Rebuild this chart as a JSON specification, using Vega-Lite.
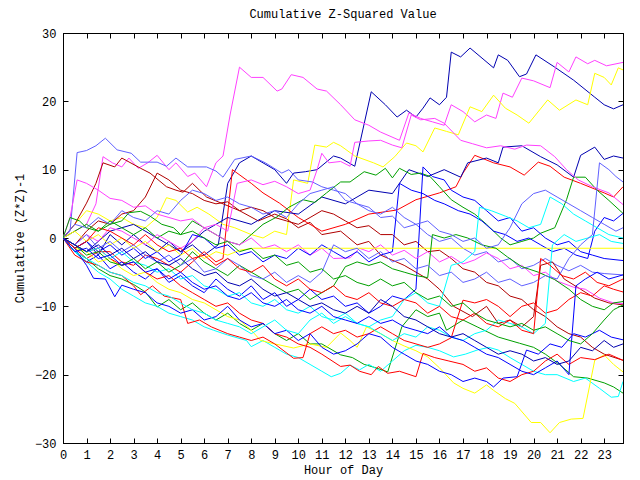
{
"$schema": "https://vega.github.io/schema/vega-lite/v6.json",
"width": 560, "height": 410,
"autosize": {"type": "none"},
"padding": {"left": 63, "top": 33, "right": 17, "bottom": 37},
"background": "white",
"title": {"text": "Cumulative Z-Squared Value", "font": "Liberation Mono", "fontSize": 12, "fontWeight": "normal", "offset": 6, "color": "black"},
"config": {"view": {"stroke": "black", "strokeWidth": 1},
 "axis": {"labelFont": "Liberation Mono", "titleFont": "Liberation Mono", "labelFontSize": 12, "titleFontSize": 12, "titleFontWeight": "normal", "labelColor": "black", "titleColor": "black", "domainColor": "black", "tickColor": "black", "grid": false}},
"datasets": {"d": [
{"s":"a","h":0,"v":0},{"s":"a","h":0.5,"v":-1.5},{"s":"a","h":1,"v":-0.5},{"s":"a","h":1.5,"v":-2.5},{"s":"a","h":2,"v":0.5},{"s":"a","h":2.5,"v":-1},{"s":"a","h":3,"v":0.5},{"s":"a","h":3.5,"v":-1},{"s":"a","h":4,"v":-2},{"s":"a","h":4.5,"v":-0.5},{"s":"a","h":5,"v":-2},{"s":"a","h":5.5,"v":-1},{"s":"a","h":6,"v":-2.5},{"s":"a","h":6.6,"v":-1},{"s":"a","h":7,"v":8},{"s":"a","h":7.5,"v":11},{"s":"a","h":8,"v":12},{"s":"a","h":8.5,"v":11},{"s":"a","h":9,"v":10},{"s":"a","h":9.5,"v":8},{"s":"a","h":9.8,"v":9.5},{"s":"a","h":10.3,"v":9.7},{"s":"a","h":10.8,"v":10},{"s":"a","h":11.5,"v":12},{"s":"a","h":11.8,"v":11.7},{"s":"a","h":12.4,"v":10.5},{"s":"a","h":13.1,"v":21.4},{"s":"a","h":13.7,"v":19.5},{"s":"a","h":14.2,"v":17.7},{"s":"a","h":14.6,"v":18.7},{"s":"a","h":15,"v":17.7},{"s":"a","h":15.3,"v":19},{"s":"a","h":15.6,"v":20.5},{"s":"a","h":16,"v":19.5},{"s":"a","h":16.3,"v":20.6},{"s":"a","h":16.5,"v":27.2},{"s":"a","h":16.9,"v":26.5},{"s":"a","h":17.3,"v":27.8},{"s":"a","h":18.3,"v":24.9},{"s":"a","h":18.5,"v":26.8},{"s":"a","h":18.9,"v":26},{"s":"a","h":19.4,"v":23.6},{"s":"a","h":19.7,"v":24},{"s":"a","h":20.1,"v":26.8},{"s":"a","h":20.9,"v":25},{"s":"a","h":21.7,"v":23.1},{"s":"a","h":22.6,"v":20.6},{"s":"a","h":23,"v":19.5},{"s":"a","h":23.4,"v":18.9},{"s":"a","h":23.8,"v":19.5},
{"s":"b","h":0,"v":0},{"s":"b","h":0.5,"v":1},{"s":"b","h":1,"v":2},{"s":"b","h":1.4,"v":5},{"s":"b","h":1.7,"v":11.9},{"s":"b","h":2.1,"v":11},{"s":"b","h":2.5,"v":10.4},{"s":"b","h":2.8,"v":11.7},{"s":"b","h":3.2,"v":10.2},{"s":"b","h":3.6,"v":11},{"s":"b","h":4,"v":12.1},{"s":"b","h":4.5,"v":10},{"s":"b","h":4.8,"v":11},{"s":"b","h":5.3,"v":9},{"s":"b","h":5.6,"v":9.5},{"s":"b","h":6.1,"v":7.5},{"s":"b","h":6.5,"v":11},{"s":"b","h":6.8,"v":12},{"s":"b","h":7.1,"v":18},{"s":"b","h":7.5,"v":25},{"s":"b","h":8,"v":23.5},{"s":"b","h":8.5,"v":23.5},{"s":"b","h":9.1,"v":21.5},{"s":"b","h":9.3,"v":21.8},{"s":"b","h":9.7,"v":23.9},{"s":"b","h":10.2,"v":23.5},{"s":"b","h":10.8,"v":21.8},{"s":"b","h":11.2,"v":21.5},{"s":"b","h":11.8,"v":19.5},{"s":"b","h":12.4,"v":17.3},{"s":"b","h":13,"v":16.5},{"s":"b","h":13.5,"v":15.5},{"s":"b","h":14.3,"v":14.3},{"s":"b","h":14.7,"v":18.3},{"s":"b","h":15.2,"v":17.5},{"s":"b","h":15.7,"v":17},{"s":"b","h":16.2,"v":16.5},{"s":"b","h":16.5,"v":19.5},{"s":"b","h":17,"v":18.5},{"s":"b","h":17.5,"v":17},{"s":"b","h":18,"v":18},{"s":"b","h":18.4,"v":17.5},{"s":"b","h":18.7,"v":21.2},{"s":"b","h":19.1,"v":20.6},{"s":"b","h":19.5,"v":23.4},{"s":"b","h":20,"v":23},{"s":"b","h":20.7,"v":22},{"s":"b","h":21,"v":25.7},{"s":"b","h":21.5,"v":24.3},{"s":"b","h":21.8,"v":26.5},{"s":"b","h":22.3,"v":25.5},{"s":"b","h":22.6,"v":26},{"s":"b","h":23.1,"v":25.2},{"s":"b","h":23.8,"v":25.7},
{"s":"c","h":0,"v":0},{"s":"c","h":0.5,"v":2},{"s":"c","h":1,"v":4},{"s":"c","h":1.5,"v":3.5},{"s":"c","h":2,"v":2.5},{"s":"c","h":2.5,"v":3},{"s":"c","h":3,"v":2},{"s":"c","h":3.5,"v":1.5},{"s":"c","h":4,"v":3},{"s":"c","h":4.4,"v":5.9},{"s":"c","h":4.8,"v":5.5},{"s":"c","h":5.3,"v":3.8},{"s":"c","h":5.7,"v":4.5},{"s":"c","h":6.2,"v":3.5},{"s":"c","h":6.8,"v":2},{"s":"c","h":7.3,"v":1.5},{"s":"c","h":8,"v":0.5},{"s":"c","h":8.5,"v":0},{"s":"c","h":9,"v":1},{"s":"c","h":9.5,"v":0.5},{"s":"c","h":9.8,"v":8.5},{"s":"c","h":10.4,"v":8},{"s":"c","h":10.7,"v":13.6},{"s":"c","h":11.2,"v":13.3},{"s":"c","h":11.5,"v":14},{"s":"c","h":11.8,"v":13.5},{"s":"c","h":12.4,"v":12},{"s":"c","h":13.2,"v":11},{"s":"c","h":13.6,"v":10.4},{"s":"c","h":14.1,"v":11.9},{"s":"c","h":14.6,"v":13.9},{"s":"c","h":15,"v":13.5},{"s":"c","h":15.3,"v":12.6},{"s":"c","h":15.8,"v":16.1},{"s":"c","h":16.3,"v":15.6},{"s":"c","h":16.8,"v":15.1},{"s":"c","h":17.3,"v":19.2},{"s":"c","h":17.8,"v":18.5},{"s":"c","h":18.3,"v":20.9},{"s":"c","h":18.8,"v":19},{"s":"c","h":19.3,"v":18},{"s":"c","h":19.8,"v":16.8},{"s":"c","h":20.6,"v":20.2},{"s":"c","h":21.1,"v":18.7},{"s":"c","h":21.8,"v":20.2},{"s":"c","h":22.3,"v":19.5},{"s":"c","h":22.6,"v":24.1},{"s":"c","h":23,"v":23.5},{"s":"c","h":23.3,"v":22.4},{"s":"c","h":23.6,"v":24.9},{"s":"c","h":23.8,"v":24.6},
{"s":"d","h":0,"v":0},{"s":"d","h":0.3,"v":1},{"s":"d","h":0.6,"v":12.5},{"s":"d","h":1,"v":12.8},{"s":"d","h":1.4,"v":13.5},{"s":"d","h":1.8,"v":14.6},{"s":"d","h":2.3,"v":12.9},{"s":"d","h":2.9,"v":12.4},{"s":"d","h":3.3,"v":11.1},{"s":"d","h":4,"v":11.1},{"s":"d","h":4.4,"v":10.5},{"s":"d","h":4.8,"v":11.7},{"s":"d","h":5.3,"v":10.4},{"s":"d","h":6.1,"v":10.4},{"s":"d","h":6.5,"v":9.8},{"s":"d","h":6.8,"v":8.9},{"s":"d","h":7.3,"v":11.5},{"s":"d","h":8,"v":12},{"s":"d","h":8.6,"v":11},{"s":"d","h":9.3,"v":9.5},{"s":"d","h":9.6,"v":10},{"s":"d","h":10,"v":8.5},{"s":"d","h":10.6,"v":8.2},{"s":"d","h":11,"v":7.5},{"s":"d","h":11.5,"v":7},{"s":"d","h":12,"v":6.5},{"s":"d","h":12.5,"v":5},{"s":"d","h":13,"v":4.5},{"s":"d","h":13.5,"v":3},{"s":"d","h":14,"v":3.2},{"s":"d","h":14.5,"v":1.5},{"s":"d","h":15,"v":2},{"s":"d","h":15.5,"v":0.5},{"s":"d","h":16,"v":-0.5},{"s":"d","h":16.5,"v":0},{"s":"d","h":17,"v":-1.5},{"s":"d","h":17.5,"v":-2.5},{"s":"d","h":18,"v":-2},{"s":"d","h":18.5,"v":-3.5},{"s":"d","h":19,"v":-3},{"s":"d","h":19.5,"v":-4.5},{"s":"d","h":20,"v":-4},{"s":"d","h":20.5,"v":-3},{"s":"d","h":21,"v":-4},{"s":"d","h":21.5,"v":-4.8},{"s":"d","h":22,"v":-4},{"s":"d","h":22.5,"v":-5},{"s":"d","h":23,"v":-5.2},{"s":"d","h":23.8,"v":-5.4},
{"s":"e","h":0,"v":0},{"s":"e","h":0.5,"v":2},{"s":"e","h":1,"v":5.1},{"s":"e","h":1.4,"v":8},{"s":"e","h":1.7,"v":11},{"s":"e","h":2.2,"v":10.4},{"s":"e","h":2.5,"v":11.7},{"s":"e","h":3.3,"v":10.2},{"s":"e","h":3.7,"v":9.5},{"s":"e","h":4.4,"v":7.5},{"s":"e","h":4.8,"v":7},{"s":"e","h":5.1,"v":6.7},{"s":"e","h":5.5,"v":8},{"s":"e","h":6.1,"v":6},{"s":"e","h":6.8,"v":5},{"s":"e","h":7.5,"v":4},{"s":"e","h":8.3,"v":2.5},{"s":"e","h":9,"v":3.5},{"s":"e","h":9.5,"v":2.8},{"s":"e","h":10,"v":1.5},{"s":"e","h":10.5,"v":2.3},{"s":"e","h":11,"v":0.5},{"s":"e","h":11.8,"v":1},{"s":"e","h":12.5,"v":-1},{"s":"e","h":13,"v":-0.5},{"s":"e","h":13.5,"v":-2.5},{"s":"e","h":14.5,"v":-4},{"s":"e","h":15.5,"v":-6},{"s":"e","h":16,"v":-7.5},{"s":"e","h":16.6,"v":-10},{"s":"e","h":17.4,"v":-11.5},{"s":"e","h":18,"v":-10},{"s":"e","h":18.5,"v":-12.5},{"s":"e","h":19,"v":-12},{"s":"e","h":19.5,"v":-13},{"s":"e","h":20,"v":-11.5},{"s":"e","h":20.3,"v":-4},{"s":"e","h":20.8,"v":-3.5},{"s":"e","h":21.3,"v":-6},{"s":"e","h":22,"v":-7.5},{"s":"e","h":22.6,"v":-8.8},{"s":"e","h":23.2,"v":-9.5},{"s":"e","h":23.8,"v":-9.8},
{"s":"e2","h":0,"v":0},{"s":"e2","h":0.5,"v":-1},{"s":"e2","h":1,"v":1},{"s":"e2","h":1.5,"v":2.5},{"s":"e2","h":2,"v":2},{"s":"e2","h":2.5,"v":3.5},{"s":"e2","h":3,"v":4},{"s":"e2","h":3.5,"v":6},{"s":"e2","h":4,"v":9.5},{"s":"e2","h":4.5,"v":8.5},{"s":"e2","h":5,"v":7},{"s":"e2","h":5.5,"v":6.5},{"s":"e2","h":6,"v":5.5},{"s":"e2","h":6.5,"v":5},{"s":"e2","h":7,"v":5.3},{"s":"e2","h":7.5,"v":4},{"s":"e2","h":8,"v":4.5},{"s":"e2","h":8.5,"v":4},{"s":"e2","h":9,"v":3},{"s":"e2","h":9.5,"v":2.5},{"s":"e2","h":10,"v":2},{"s":"e2","h":10.5,"v":3},{"s":"e2","h":11,"v":4},{"s":"e2","h":11.5,"v":3.5},{"s":"e2","h":12,"v":2.5},{"s":"e2","h":12.5,"v":1.5},{"s":"e2","h":13,"v":1.8},{"s":"e2","h":13.5,"v":0.5},{"s":"e2","h":14,"v":0.5},{"s":"e2","h":14.5,"v":-1},{"s":"e2","h":15,"v":-0.5},{"s":"e2","h":15.5,"v":-2},{"s":"e2","h":16,"v":-1.8},{"s":"e2","h":16.5,"v":-3},{"s":"e2","h":17,"v":-4.5},{"s":"e2","h":17.5,"v":-5},{"s":"e2","h":18,"v":-6.5},{"s":"e2","h":18.5,"v":-7},{"s":"e2","h":19,"v":-8.5},{"s":"e2","h":19.5,"v":-9},{"s":"e2","h":20,"v":-10.5},{"s":"e2","h":20.5,"v":-11.5},{"s":"e2","h":21,"v":-13},{"s":"e2","h":21.5,"v":-14},{"s":"e2","h":22,"v":-14.5},{"s":"e2","h":22.5,"v":-16},{"s":"e2","h":23,"v":-17},{"s":"e2","h":23.8,"v":-17.9},
{"s":"f","h":0,"v":0},{"s":"f","h":0.5,"v":-1.5},{"s":"f","h":1,"v":-3},{"s":"f","h":1.5,"v":-2},{"s":"f","h":2,"v":-2},{"s":"f","h":2.5,"v":-3.5},{"s":"f","h":3,"v":-4},{"s":"f","h":3.5,"v":-2.5},{"s":"f","h":4,"v":-3},{"s":"f","h":4.5,"v":-4},{"s":"f","h":5,"v":-5},{"s":"f","h":5.5,"v":-3.5},{"s":"f","h":6,"v":-2},{"s":"f","h":6.5,"v":-3.5},{"s":"f","h":6.8,"v":-3},{"s":"f","h":7.2,"v":10},{"s":"f","h":8,"v":8},{"s":"f","h":8.5,"v":6.6},{"s":"f","h":9.2,"v":5.1},{"s":"f","h":10,"v":3},{"s":"f","h":11,"v":1},{"s":"f","h":12,"v":2},{"s":"f","h":13,"v":3.5},{"s":"f","h":14.2,"v":4.1},{"s":"f","h":15,"v":5.6},{"s":"f","h":16,"v":6.6},{"s":"f","h":16.7,"v":7.5},{"s":"f","h":17,"v":9.5},{"s":"f","h":17.5,"v":12.1},{"s":"f","h":18.3,"v":11},{"s":"f","h":19,"v":10.4},{"s":"f","h":19.6,"v":9.2},{"s":"f","h":20.2,"v":11.1},{"s":"f","h":20.7,"v":10.5},{"s":"f","h":21.3,"v":8.9},{"s":"f","h":22,"v":8},{"s":"f","h":23,"v":6.6},{"s":"f","h":23.4,"v":6},{"s":"f","h":23.8,"v":7.5},
{"s":"g","h":0,"v":0},{"s":"g","h":1,"v":-2},{"s":"g","h":2,"v":1},{"s":"g","h":3,"v":2},{"s":"g","h":4,"v":0},{"s":"g","h":5,"v":-2},{"s":"g","h":6,"v":1},{"s":"g","h":7,"v":3},{"s":"g","h":8,"v":2},{"s":"g","h":9,"v":4},{"s":"g","h":10,"v":3.5},{"s":"g","h":11,"v":6},{"s":"g","h":12,"v":5},{"s":"g","h":13,"v":7},{"s":"g","h":14,"v":6.5},{"s":"g","h":14.7,"v":10},{"s":"g","h":15.5,"v":9},{"s":"g","h":16.2,"v":10},{"s":"g","h":16.9,"v":8.9},{"s":"g","h":17.2,"v":11},{"s":"g","h":18,"v":11.7},{"s":"g","h":18.5,"v":11},{"s":"g","h":18.7,"v":13.3},{"s":"g","h":19.5,"v":13.5},{"s":"g","h":20.3,"v":11.9},{"s":"g","h":21,"v":10.7},{"s":"g","h":21.7,"v":8.9},{"s":"g","h":22,"v":12.1},{"s":"g","h":22.6,"v":13.3},{"s":"g","h":23,"v":11.5},{"s":"g","h":23.4,"v":12},{"s":"g","h":23.8,"v":11.7},
{"s":"i","h":0,"v":0},{"s":"i","h":0.5,"v":1},{"s":"i","h":1,"v":2},{"s":"i","h":1.5,"v":1},{"s":"i","h":2,"v":2.5},{"s":"i","h":2.5,"v":1.5},{"s":"i","h":3,"v":0.5},{"s":"i","h":3.5,"v":1.5},{"s":"i","h":4,"v":0},{"s":"i","h":4.5,"v":1},{"s":"i","h":5,"v":0.5},{"s":"i","h":5.5,"v":2.5},{"s":"i","h":6,"v":1.5},{"s":"i","h":6.5,"v":0.5},{"s":"i","h":7,"v":-0.5},{"s":"i","h":7.5,"v":-1},{"s":"i","h":8,"v":0.5},{"s":"i","h":8.5,"v":2},{"s":"i","h":9.1,"v":3.1},{"s":"i","h":9.6,"v":4.5},{"s":"i","h":10.2,"v":5.6},{"s":"i","h":10.7,"v":5.2},{"s":"i","h":11.2,"v":6.6},{"s":"i","h":11.8,"v":8.2},{"s":"i","h":12.2,"v":8.2},{"s":"i","h":12.8,"v":9.7},{"s":"i","h":13.3,"v":9.2},{"s":"i","h":13.7,"v":10.2},{"s":"i","h":14,"v":8.8},{"s":"i","h":14.3,"v":10.2},{"s":"i","h":14.8,"v":9.3},{"s":"i","h":15.2,"v":9.5},{"s":"i","h":15.6,"v":9},{"s":"i","h":16,"v":7.5},{"s":"i","h":16.5,"v":5.6},{"s":"i","h":17,"v":4.5},{"s":"i","h":17.5,"v":3.5},{"s":"i","h":18,"v":2},{"s":"i","h":18.6,"v":0},{"s":"i","h":19,"v":-1},{"s":"i","h":19.5,"v":-0.5},{"s":"i","h":20,"v":0},{"s":"i","h":20.3,"v":0.7},{"s":"i","h":20.9,"v":1.5},{"s":"i","h":21.4,"v":5.6},{"s":"i","h":21.7,"v":8.9},{"s":"i","h":22.2,"v":8.9},{"s":"i","h":22.7,"v":7},{"s":"i","h":23.2,"v":5.5},{"s":"i","h":23.8,"v":3.6},
{"s":"k","h":0,"v":0},{"s":"k","h":0.3,"v":3},{"s":"k","h":0.6,"v":8.5},{"s":"k","h":1,"v":8},{"s":"k","h":1.5,"v":7},{"s":"k","h":2,"v":5.8},{"s":"k","h":2.5,"v":5.5},{"s":"k","h":3,"v":4.5},{"s":"k","h":3.5,"v":4.7},{"s":"k","h":4,"v":3.5},{"s":"k","h":4.5,"v":3},{"s":"k","h":5,"v":2.5},{"s":"k","h":5.5,"v":2.8},{"s":"k","h":6,"v":1.5},{"s":"k","h":6.5,"v":2},{"s":"k","h":7,"v":1},{"s":"k","h":7.4,"v":8},{"s":"k","h":8,"v":8.5},{"s":"k","h":8.5,"v":7.8},{"s":"k","h":9,"v":8.3},{"s":"k","h":9.5,"v":7.5},{"s":"k","h":10,"v":6.5},{"s":"k","h":10.5,"v":7},{"s":"k","h":10.8,"v":10},{"s":"k","h":11,"v":12.4},{"s":"k","h":11.3,"v":11},{"s":"k","h":11.8,"v":11.2},{"s":"k","h":12.2,"v":10.5},{"s":"k","h":12.4,"v":14},{"s":"k","h":13,"v":14.2},{"s":"k","h":13.5,"v":14.3},{"s":"k","h":14,"v":13.6},{"s":"k","h":14.4,"v":13.2},{"s":"k","h":14.8,"v":18},{"s":"k","h":15.2,"v":17.3},{"s":"k","h":15.8,"v":17.5},{"s":"k","h":16.2,"v":16.8},{"s":"k","h":16.9,"v":14.3},{"s":"k","h":17.4,"v":13.8},{"s":"k","h":18,"v":13.2},{"s":"k","h":18.6,"v":13.5},{"s":"k","h":19.2,"v":13},{"s":"k","h":19.7,"v":13.6},{"s":"k","h":20.3,"v":13.5},{"s":"k","h":20.9,"v":11.9},{"s":"k","h":21.4,"v":10},{"s":"k","h":21.9,"v":8.5},{"s":"k","h":22.5,"v":7.5},{"s":"k","h":23.2,"v":6.6},{"s":"k","h":23.8,"v":4.9},
{"s":"l","h":0,"v":0},{"s":"l","h":0.5,"v":-2},{"s":"l","h":1,"v":-3.5},{"s":"l","h":1.5,"v":-2.5},{"s":"l","h":2,"v":-4.5},{"s":"l","h":2.5,"v":-3.5},{"s":"l","h":3,"v":-5},{"s":"l","h":3.5,"v":-6},{"s":"l","h":4,"v":-4.5},{"s":"l","h":4.5,"v":-6.5},{"s":"l","h":5,"v":-5.5},{"s":"l","h":5.5,"v":-7},{"s":"l","h":6,"v":-8},{"s":"l","h":6.5,"v":-6},{"s":"l","h":7,"v":-7.5},{"s":"l","h":7.5,"v":-8.5},{"s":"l","h":8,"v":-7},{"s":"l","h":8.5,"v":-9},{"s":"l","h":9,"v":-8},{"s":"l","h":9.5,"v":-10},{"s":"l","h":10,"v":-9},{"s":"l","h":10.5,"v":-7.5},{"s":"l","h":11,"v":-9},{"s":"l","h":11.5,"v":-8.5},{"s":"l","h":12,"v":-10},{"s":"l","h":12.5,"v":-9.5},{"s":"l","h":13,"v":-11},{"s":"l","h":13.5,"v":-10},{"s":"l","h":14,"v":-8.5},{"s":"l","h":14.5,"v":-9},{"s":"l","h":15,"v":-7.5},{"s":"l","h":15.3,"v":10.4},{"s":"l","h":15.7,"v":9},{"s":"l","h":16.2,"v":8.5},{"s":"l","h":16.5,"v":7},{"s":"l","h":17,"v":6},{"s":"l","h":17.5,"v":5.5},{"s":"l","h":18,"v":4},{"s":"l","h":18.5,"v":2.5},{"s":"l","h":19,"v":3},{"s":"l","h":19.5,"v":1},{"s":"l","h":20,"v":1.5},{"s":"l","h":20.5,"v":0},{"s":"l","h":21,"v":-1},{"s":"l","h":21.5,"v":-0.5},{"s":"l","h":22,"v":-2},{"s":"l","h":22.5,"v":-2.5},{"s":"l","h":23,"v":-3},{"s":"l","h":23.8,"v":-3.3},
{"s":"m","h":0,"v":0},{"s":"m","h":0.5,"v":-1},{"s":"m","h":1,"v":0.5},{"s":"m","h":1.5,"v":-0.5},{"s":"m","h":2,"v":1.5},{"s":"m","h":2.5,"v":1},{"s":"m","h":3,"v":0},{"s":"m","h":3.5,"v":-1},{"s":"m","h":4,"v":0.5},{"s":"m","h":4.5,"v":-0.5},{"s":"m","h":5,"v":-1.5},{"s":"m","h":5.5,"v":-0.5},{"s":"m","h":6,"v":1.5},{"s":"m","h":6.5,"v":0.5},{"s":"m","h":7,"v":-0.5},{"s":"m","h":7.5,"v":-1},{"s":"m","h":8,"v":0},{"s":"m","h":8.5,"v":-1.5},{"s":"m","h":9,"v":-1},{"s":"m","h":9.5,"v":-2},{"s":"m","h":10,"v":-1},{"s":"m","h":10.5,"v":-2.5},{"s":"m","h":11,"v":-1.5},{"s":"m","h":11.5,"v":-3},{"s":"m","h":12.2,"v":-2.9},{"s":"m","h":12.6,"v":-1.5},{"s":"m","h":13,"v":-2},{"s":"m","h":13.5,"v":-1},{"s":"m","h":14,"v":-2.5},{"s":"m","h":14.5,"v":-1.8},{"s":"m","h":15,"v":-3},{"s":"m","h":15.5,"v":-2},{"s":"m","h":16,"v":-3.5},{"s":"m","h":16.5,"v":-2.7},{"s":"m","h":17,"v":-3.8},{"s":"m","h":17.5,"v":-3.2},{"s":"m","h":18,"v":-2.2},{"s":"m","h":18.5,"v":-3},{"s":"m","h":19,"v":-4.5},{"s":"m","h":19.5,"v":-4},{"s":"m","h":20,"v":-5.5},{"s":"m","h":20.5,"v":-5},{"s":"m","h":21,"v":-6.3},{"s":"m","h":21.7,"v":-7.2},{"s":"m","h":22.2,"v":-7.5},{"s":"m","h":22.8,"v":-8.8},{"s":"m","h":23.4,"v":-9.5},{"s":"m","h":23.8,"v":-9.6},
{"s":"n","h":0,"v":0},{"s":"n","h":0.5,"v":-1.5},{"s":"n","h":1,"v":-0.5},{"s":"n","h":1.5,"v":-2},{"s":"n","h":2,"v":-1},{"s":"n","h":2.5,"v":-2.5},{"s":"n","h":3,"v":-1.5},{"s":"n","h":3.5,"v":-3},{"s":"n","h":4,"v":-2},{"s":"n","h":4.5,"v":-3.5},{"s":"n","h":5,"v":-2.5},{"s":"n","h":5.5,"v":0.5},{"s":"n","h":6,"v":0},{"s":"n","h":6.5,"v":-1.5},{"s":"n","h":7,"v":-1},{"s":"n","h":7.5,"v":-2.5},{"s":"n","h":8,"v":-2},{"s":"n","h":8.5,"v":-3.5},{"s":"n","h":9,"v":-2.5},{"s":"n","h":9.5,"v":-3},{"s":"n","h":10,"v":-1.5},{"s":"n","h":10.5,"v":-2.5},{"s":"n","h":11,"v":-1},{"s":"n","h":11.5,"v":-2},{"s":"n","h":12,"v":-3},{"s":"n","h":12.5,"v":-2},{"s":"n","h":13,"v":-3.5},{"s":"n","h":13.5,"v":-2.5},{"s":"n","h":14,"v":-2},{"s":"n","h":14.3,"v":8},{"s":"n","h":14.8,"v":7},{"s":"n","h":15.3,"v":6.5},{"s":"n","h":15.8,"v":5.5},{"s":"n","h":16.2,"v":5},{"s":"n","h":16.8,"v":4},{"s":"n","h":17.3,"v":3.5},{"s":"n","h":17.8,"v":2.5},{"s":"n","h":18.3,"v":1},{"s":"n","h":18.8,"v":0.5},{"s":"n","h":19.3,"v":-0.5},{"s":"n","h":19.8,"v":0},{"s":"n","h":20.3,"v":-1},{"s":"n","h":20.8,"v":-2},{"s":"n","h":21.3,"v":-1.5},{"s":"n","h":21.8,"v":-2.5},{"s":"n","h":22.3,"v":-3},{"s":"n","h":22.6,"v":1},{"s":"n","h":23,"v":3},{"s":"n","h":23.4,"v":2.5},{"s":"n","h":23.8,"v":3.6},
{"s":"o","h":0,"v":0},{"s":"o","h":0.5,"v":-2},{"s":"o","h":1,"v":-3},{"s":"o","h":1.5,"v":-4.5},{"s":"o","h":2,"v":-5.5},{"s":"o","h":2.5,"v":-6},{"s":"o","h":3,"v":-6.8},{"s":"o","h":3.5,"v":-7.9},{"s":"o","h":4,"v":-10.1},{"s":"o","h":4.5,"v":-9},{"s":"o","h":5,"v":-10.5},{"s":"o","h":5.5,"v":-9.5},{"s":"o","h":6,"v":-11},{"s":"o","h":6.5,"v":-12},{"s":"o","h":7,"v":-11},{"s":"o","h":7.5,"v":-12.5},{"s":"o","h":8,"v":-13.5},{"s":"o","h":8.5,"v":-12.5},{"s":"o","h":9,"v":-14},{"s":"o","h":9.5,"v":-15},{"s":"o","h":10,"v":-14},{"s":"o","h":10.5,"v":-15.5},{"s":"o","h":11,"v":-15.5},{"s":"o","h":11.8,"v":-17.1},{"s":"o","h":12.3,"v":-17.5},{"s":"o","h":12.8,"v":-18.5},{"s":"o","h":13.3,"v":-19},{"s":"o","h":13.8,"v":-19.6},{"s":"o","h":14.4,"v":-13},{"s":"o","h":15,"v":-10.5},{"s":"o","h":15.5,"v":-11.5},{"s":"o","h":16,"v":-11},{"s":"o","h":16.3,"v":-13.5},{"s":"o","h":17,"v":-12},{"s":"o","h":17.6,"v":-13},{"s":"o","h":18.5,"v":-14.5},{"s":"o","h":19.4,"v":-15.4},{"s":"o","h":20,"v":-16},{"s":"o","h":20.5,"v":-17},{"s":"o","h":21.1,"v":-18.5},{"s":"o","h":21.7,"v":-20.3},{"s":"o","h":22.3,"v":-20.5},{"s":"o","h":23,"v":-21.2},{"s":"o","h":23.4,"v":-21.8},{"s":"o","h":23.8,"v":-22.7},
{"s":"p","h":0,"v":0},{"s":"p","h":0.5,"v":-2},{"s":"p","h":1,"v":-3.5},{"s":"p","h":1.5,"v":-5},{"s":"p","h":2,"v":-6},{"s":"p","h":2.5,"v":-7.5},{"s":"p","h":3,"v":-8.5},{"s":"p","h":3.5,"v":-9.5},{"s":"p","h":4,"v":-10},{"s":"p","h":4.5,"v":-11},{"s":"p","h":5,"v":-11.5},{"s":"p","h":5.5,"v":-12},{"s":"p","h":6,"v":-13},{"s":"p","h":6.4,"v":-13.5},{"s":"p","h":7,"v":-14.2},{"s":"p","h":7.8,"v":-15},{"s":"p","h":8,"v":-15.9},{"s":"p","h":8.5,"v":-15},{"s":"p","h":9,"v":-16},{"s":"p","h":9.5,"v":-17},{"s":"p","h":10,"v":-17.5},{"s":"p","h":10.5,"v":-18.5},{"s":"p","h":11,"v":-19.5},{"s":"p","h":11.4,"v":-20.3},{"s":"p","h":11.8,"v":-19.8},{"s":"p","h":12.2,"v":-18.6},{"s":"p","h":12.6,"v":-19.3},{"s":"p","h":13,"v":-18.5},{"s":"p","h":13.5,"v":-19.5},{"s":"p","h":14,"v":-18},{"s":"p","h":14.5,"v":-16.5},{"s":"p","h":15,"v":-15.7},{"s":"p","h":15.5,"v":-16},{"s":"p","h":16,"v":-16.5},{"s":"p","h":16.6,"v":-17.4},{"s":"p","h":17.1,"v":-17},{"s":"p","h":17.6,"v":-16.4},{"s":"p","h":18.1,"v":-16},{"s":"p","h":18.5,"v":-16.4},{"s":"p","h":19,"v":-17.5},{"s":"p","h":19.5,"v":-18.5},{"s":"p","h":20,"v":-19.5},{"s":"p","h":20.5,"v":-20},{"s":"p","h":21,"v":-20},{"s":"p","h":21.7,"v":-21},{"s":"p","h":22.2,"v":-20.5},{"s":"p","h":22.8,"v":-22},{"s":"p","h":23.3,"v":-23.3},{"s":"p","h":23.6,"v":-23.2},{"s":"p","h":23.8,"v":-21},
{"s":"q","h":0,"v":0},{"s":"q","h":0.5,"v":-1.5},{"s":"q","h":1,"v":-2},{"s":"q","h":1.5,"v":-3.5},{"s":"q","h":2,"v":-3},{"s":"q","h":2.5,"v":-4.5},{"s":"q","h":3,"v":-5.5},{"s":"q","h":3.5,"v":-5},{"s":"q","h":4,"v":-6.5},{"s":"q","h":4.5,"v":-7.5},{"s":"q","h":5,"v":-8},{"s":"q","h":5.5,"v":-9},{"s":"q","h":6,"v":-9.5},{"s":"q","h":6.5,"v":-10.5},{"s":"q","h":7,"v":-11.5},{"s":"q","h":7.5,"v":-12},{"s":"q","h":8,"v":-13.5},{"s":"q","h":8.4,"v":-15},{"s":"q","h":9,"v":-15.5},{"s":"q","h":9.8,"v":-16.1},{"s":"q","h":10.5,"v":-15.5},{"s":"q","h":11.2,"v":-16},{"s":"q","h":11.8,"v":-13.9},{"s":"q","h":12.2,"v":-15},{"s":"q","h":12.5,"v":-16},{"s":"q","h":12.9,"v":-13},{"s":"q","h":13.5,"v":-14},{"s":"q","h":14,"v":-15},{"s":"q","h":14.5,"v":-15.8},{"s":"q","h":15,"v":-16.5},{"s":"q","h":15.5,"v":-17.4},{"s":"q","h":16,"v":-19},{"s":"q","h":16.6,"v":-21.2},{"s":"q","h":17,"v":-22},{"s":"q","h":17.5,"v":-22.7},{"s":"q","h":18,"v":-21.5},{"s":"q","h":18.3,"v":-22.3},{"s":"q","h":18.8,"v":-23.5},{"s":"q","h":19.2,"v":-24.2},{"s":"q","h":19.9,"v":-27},{"s":"q","h":20.3,"v":-27},{"s":"q","h":20.7,"v":-28.5},{"s":"q","h":21.1,"v":-27},{"s":"q","h":21.6,"v":-26.5},{"s":"q","h":22.1,"v":-26.4},{"s":"q","h":22.6,"v":-17.9},{"s":"q","h":23,"v":-17.1},{"s":"q","h":23.4,"v":-18.5},{"s":"q","h":23.8,"v":-19.6},
{"s":"r","h":0,"v":0},{"s":"r","h":0.5,"v":1},{"s":"r","h":1,"v":-0.5},{"s":"r","h":1.5,"v":0.5},{"s":"r","h":2,"v":-1},{"s":"r","h":2.5,"v":0},{"s":"r","h":3,"v":-1.5},{"s":"r","h":3.5,"v":-0.5},{"s":"r","h":4,"v":-2},{"s":"r","h":4.5,"v":-1},{"s":"r","h":5,"v":-2.5},{"s":"r","h":5.5,"v":-1.5},{"s":"r","h":6,"v":-3},{"s":"r","h":6.5,"v":-2},{"s":"r","h":7,"v":-2.5},{"s":"r","h":7.5,"v":-1.8},{"s":"r","h":8.1,"v":-1.5},{"s":"r","h":23.8,"v":-1.5},
{"s":"s","h":0,"v":0},{"s":"s","h":0.5,"v":-2.5},{"s":"s","h":1,"v":-3.5},{"s":"s","h":1.5,"v":-4},{"s":"s","h":2,"v":-5},{"s":"s","h":2.5,"v":-5.5},{"s":"s","h":3,"v":-7},{"s":"s","h":3.3,"v":-8.3},{"s":"s","h":3.8,"v":-7},{"s":"s","h":4.3,"v":-8.5},{"s":"s","h":5,"v":-9},{"s":"s","h":5.3,"v":-12.5},{"s":"s","h":5.8,"v":-12},{"s":"s","h":6.3,"v":-13},{"s":"s","h":7,"v":-14},{"s":"s","h":7.5,"v":-14.5},{"s":"s","h":8,"v":-15},{"s":"s","h":8.5,"v":-14.5},{"s":"s","h":9,"v":-15.5},{"s":"s","h":9.8,"v":-17.6},{"s":"s","h":10.2,"v":-17.5},{"s":"s","h":10.5,"v":-14},{"s":"s","h":11,"v":-13},{"s":"s","h":11.5,"v":-14},{"s":"s","h":12,"v":-13.5},{"s":"s","h":12.5,"v":-14.5},{"s":"s","h":13,"v":-14},{"s":"s","h":13.5,"v":-13},{"s":"s","h":14,"v":-14},{"s":"s","h":14.5,"v":-15},{"s":"s","h":15,"v":-15.5},{"s":"s","h":15.5,"v":-16},{"s":"s","h":16,"v":-15.5},{"s":"s","h":16.5,"v":-14.6},{"s":"s","h":17,"v":-9.1},{"s":"s","h":17.5,"v":-9.5},{"s":"s","h":18,"v":-9},{"s":"s","h":18.5,"v":-10},{"s":"s","h":19,"v":-11.5},{"s":"s","h":19.5,"v":-10},{"s":"s","h":20,"v":-9.5},{"s":"s","h":20.5,"v":-11},{"s":"s","h":21,"v":-10.5},{"s":"s","h":21.5,"v":-9},{"s":"s","h":22,"v":-8},{"s":"s","h":22.5,"v":-8.5},{"s":"s","h":23,"v":-7},{"s":"s","h":23.4,"v":-7.5},{"s":"s","h":23.8,"v":-7.9},
{"s":"t","h":0,"v":0},{"s":"t","h":0.5,"v":-1},{"s":"t","h":1,"v":-2},{"s":"t","h":1.5,"v":-1.5},{"s":"t","h":2,"v":-3},{"s":"t","h":2.5,"v":-4},{"s":"t","h":3,"v":-3.5},{"s":"t","h":3.5,"v":-5},{"s":"t","h":4,"v":-6},{"s":"t","h":4.5,"v":-5.5},{"s":"t","h":5,"v":-7},{"s":"t","h":5.5,"v":-8},{"s":"t","h":6,"v":-9},{"s":"t","h":6.5,"v":-10},{"s":"t","h":7,"v":-9.5},{"s":"t","h":7.5,"v":-11},{"s":"t","h":8,"v":-12},{"s":"t","h":8.5,"v":-12.5},{"s":"t","h":9,"v":-14},{"s":"t","h":9.5,"v":-14.5},{"s":"t","h":10,"v":-15.5},{"s":"t","h":10.5,"v":-16},{"s":"t","h":11,"v":-17},{"s":"t","h":11.8,"v":-18.8},{"s":"t","h":12.2,"v":-18.6},{"s":"t","h":12.6,"v":-19.5},{"s":"t","h":13.1,"v":-20},{"s":"t","h":13.4,"v":-18.8},{"s":"t","h":13.8,"v":-19.8},{"s":"t","h":14.3,"v":-19.5},{"s":"t","h":15,"v":-20.3},{"s":"t","h":15.3,"v":-16.9},{"s":"t","h":15.8,"v":-17.5},{"s":"t","h":16.4,"v":-18},{"s":"t","h":17,"v":-18.5},{"s":"t","h":17.5,"v":-19.5},{"s":"t","h":18,"v":-19},{"s":"t","h":18.5,"v":-20.5},{"s":"t","h":19,"v":-21},{"s":"t","h":19.5,"v":-20},{"s":"t","h":20,"v":-19.5},{"s":"t","h":20.5,"v":-18},{"s":"t","h":21,"v":-17},{"s":"t","h":21.5,"v":-18.5},{"s":"t","h":22,"v":-17.5},{"s":"t","h":22.6,"v":-17.8},{"s":"t","h":23.2,"v":-17},{"s":"t","h":23.8,"v":-17.9},
{"s":"u","h":0,"v":0},{"s":"u","h":0.5,"v":-1.5},{"s":"u","h":1,"v":-4},{"s":"u","h":1.3,"v":-5.9},{"s":"u","h":1.8,"v":-6},{"s":"u","h":2.2,"v":-8.6},{"s":"u","h":2.5,"v":-6.9},{"s":"u","h":3,"v":-7.5},{"s":"u","h":3.5,"v":-8},{"s":"u","h":4,"v":-9.5},{"s":"u","h":4.5,"v":-10},{"s":"u","h":5,"v":-11},{"s":"u","h":5.5,"v":-10.5},{"s":"u","h":6,"v":-12},{"s":"u","h":6.5,"v":-11.5},{"s":"u","h":7,"v":-10},{"s":"u","h":7.5,"v":-12},{"s":"u","h":8,"v":-13},{"s":"u","h":8.5,"v":-12.5},{"s":"u","h":9,"v":-14},{"s":"u","h":9.5,"v":-13.5},{"s":"u","h":10,"v":-15},{"s":"u","h":10.5,"v":-14},{"s":"u","h":11,"v":-16},{"s":"u","h":11.5,"v":-17},{"s":"u","h":12,"v":-16.5},{"s":"u","h":12.5,"v":-15.5},{"s":"u","h":13,"v":-14},{"s":"u","h":13.5,"v":-14.5},{"s":"u","h":14,"v":-16},{"s":"u","h":14.5,"v":-17},{"s":"u","h":15,"v":-18},{"s":"u","h":15.5,"v":-18.5},{"s":"u","h":16,"v":-19.5},{"s":"u","h":16.5,"v":-20},{"s":"u","h":17,"v":-21},{"s":"u","h":17.5,"v":-20.5},{"s":"u","h":18,"v":-21},{"s":"u","h":18.3,"v":-21.8},{"s":"u","h":18.7,"v":-20.5},{"s":"u","h":19.3,"v":-20.3},{"s":"u","h":19.7,"v":-16.4},{"s":"u","h":20.2,"v":-17},{"s":"u","h":20.7,"v":-15.5},{"s":"u","h":21.2,"v":-16},{"s":"u","h":21.7,"v":-14},{"s":"u","h":22.2,"v":-14.5},{"s":"u","h":22.8,"v":-13.5},{"s":"u","h":23.3,"v":-14.5},{"s":"u","h":23.8,"v":-14.9},
{"s":"v","h":0,"v":0},{"s":"v","h":0.5,"v":-1},{"s":"v","h":1,"v":-2},{"s":"v","h":1.5,"v":-1.5},{"s":"v","h":2,"v":-3},{"s":"v","h":2.5,"v":-2},{"s":"v","h":3,"v":-3.5},{"s":"v","h":3.5,"v":-4},{"s":"v","h":4,"v":-5},{"s":"v","h":4.5,"v":-4.5},{"s":"v","h":5,"v":-6},{"s":"v","h":5.5,"v":-5.5},{"s":"v","h":6,"v":-7},{"s":"v","h":6.5,"v":-7.5},{"s":"v","h":7,"v":-8.5},{"s":"v","h":7.5,"v":-8},{"s":"v","h":8,"v":-9.5},{"s":"v","h":8.5,"v":-10},{"s":"v","h":9,"v":-9},{"s":"v","h":9.5,"v":-10.5},{"s":"v","h":10,"v":-11},{"s":"v","h":10.5,"v":-10},{"s":"v","h":11,"v":-11.5},{"s":"v","h":11.5,"v":-12},{"s":"v","h":12,"v":-11},{"s":"v","h":12.5,"v":-12.5},{"s":"v","h":13,"v":-13},{"s":"v","h":13.5,"v":-12},{"s":"v","h":14,"v":-11.5},{"s":"v","h":14.5,"v":-9},{"s":"v","h":15,"v":-8},{"s":"v","h":15.5,"v":-9.5},{"s":"v","h":16,"v":-10},{"s":"v","h":16.5,"v":-4},{"s":"v","h":17,"v":-3.5},{"s":"v","h":17.5,"v":-2},{"s":"v","h":17.7,"v":4.5},{"s":"v","h":18.2,"v":4},{"s":"v","h":18.8,"v":3.2},{"s":"v","h":19.3,"v":2.5},{"s":"v","h":19.8,"v":1.5},{"s":"v","h":20.3,"v":2},{"s":"v","h":20.7,"v":6},{"s":"v","h":21.2,"v":5},{"s":"v","h":21.7,"v":3.5},{"s":"v","h":22.2,"v":2.5},{"s":"v","h":22.7,"v":1.5},{"s":"v","h":23.2,"v":0.5},{"s":"v","h":23.8,"v":0},
{"s":"w","h":0,"v":0},{"s":"w","h":0.5,"v":-2},{"s":"w","h":1,"v":-3},{"s":"w","h":1.5,"v":-4},{"s":"w","h":2,"v":-5},{"s":"w","h":2.5,"v":-5.5},{"s":"w","h":3,"v":-6.5},{"s":"w","h":3.5,"v":-7},{"s":"w","h":4,"v":-8},{"s":"w","h":4.5,"v":-8.5},{"s":"w","h":5,"v":-9.5},{"s":"w","h":5.5,"v":-10.5},{"s":"w","h":6,"v":-11},{"s":"w","h":6.5,"v":-12},{"s":"w","h":7,"v":-12.5},{"s":"w","h":7.5,"v":-13},{"s":"w","h":8,"v":-14},{"s":"w","h":8.5,"v":-13},{"s":"w","h":9,"v":-12},{"s":"w","h":9.5,"v":-13.5},{"s":"w","h":10,"v":-14},{"s":"w","h":10.5,"v":-12},{"s":"w","h":11,"v":-11},{"s":"w","h":11.5,"v":-12.5},{"s":"w","h":12,"v":-11.5},{"s":"w","h":12.5,"v":-12.5},{"s":"w","h":13,"v":-13},{"s":"w","h":13.5,"v":-14},{"s":"w","h":14,"v":-15},{"s":"w","h":14.5,"v":-14},{"s":"w","h":15,"v":-14.5},{"s":"w","h":15.5,"v":-13},{"s":"w","h":16,"v":-13.5},{"s":"w","h":16.5,"v":-14.5},{"s":"w","h":17,"v":-15},{"s":"w","h":17.5,"v":-14},{"s":"w","h":18,"v":-13.5},{"s":"w","h":18.5,"v":-12},{"s":"w","h":19,"v":-12.5},{"s":"w","h":19.5,"v":-13},{"s":"w","h":20,"v":-14},{"s":"w","h":20.5,"v":-12.5},{"s":"w","h":20.8,"v":-1},{"s":"w","h":21.3,"v":0.5},{"s":"w","h":21.8,"v":-0.5},{"s":"w","h":22.3,"v":0},{"s":"w","h":22.8,"v":0.5},{"s":"w","h":23.3,"v":-0.5},{"s":"w","h":23.8,"v":-0.8},
{"s":"x","h":0,"v":0},{"s":"x","h":0.5,"v":-1},{"s":"x","h":1,"v":-2.5},{"s":"x","h":1.5,"v":-2},{"s":"x","h":2,"v":-3.5},{"s":"x","h":2.5,"v":-4},{"s":"x","h":3,"v":-3},{"s":"x","h":3.5,"v":-4.5},{"s":"x","h":4,"v":-3.5},{"s":"x","h":4.5,"v":-5},{"s":"x","h":5,"v":-4},{"s":"x","h":5.5,"v":-2},{"s":"x","h":6,"v":-3.5},{"s":"x","h":6.5,"v":-4.5},{"s":"x","h":7,"v":-5.5},{"s":"x","h":7.5,"v":-4},{"s":"x","h":8,"v":-5},{"s":"x","h":8.5,"v":-6},{"s":"x","h":9,"v":-7},{"s":"x","h":9.5,"v":-8},{"s":"x","h":10,"v":-7.5},{"s":"x","h":10.5,"v":-9},{"s":"x","h":11,"v":-8},{"s":"x","h":11.5,"v":-7},{"s":"x","h":12,"v":-4.2},{"s":"x","h":12.5,"v":-3.5},{"s":"x","h":13,"v":-4},{"s":"x","h":13.5,"v":-3.5},{"s":"x","h":14,"v":-4.5},{"s":"x","h":14.5,"v":-5},{"s":"x","h":15,"v":-5.5},{"s":"x","h":15.5,"v":-5.8},{"s":"x","h":15.7,"v":0.5},{"s":"x","h":16.2,"v":0},{"s":"x","h":16.7,"v":0.5},{"s":"x","h":17.2,"v":0},{"s":"x","h":17.8,"v":-1},{"s":"x","h":18.4,"v":-1.5},{"s":"x","h":18.9,"v":-2.8},{"s":"x","h":19.5,"v":-4.2},{"s":"x","h":20.2,"v":-5},{"s":"x","h":20.9,"v":-6.1},{"s":"x","h":21.5,"v":-7.5},{"s":"x","h":22,"v":-9},{"s":"x","h":22.5,"v":-10},{"s":"x","h":23,"v":-10.5},{"s":"x","h":23.4,"v":-9.5},{"s":"x","h":23.8,"v":-9.3},
{"s":"y","h":0,"v":0},{"s":"y","h":0.5,"v":-1},{"s":"y","h":1,"v":0.5},{"s":"y","h":1.5,"v":-1.5},{"s":"y","h":2,"v":-0.5},{"s":"y","h":2.5,"v":-2},{"s":"y","h":3,"v":-1},{"s":"y","h":3.5,"v":-2.5},{"s":"y","h":4,"v":-3.5},{"s":"y","h":4.5,"v":-2.5},{"s":"y","h":5,"v":-4},{"s":"y","h":5.5,"v":-3},{"s":"y","h":6,"v":-5},{"s":"y","h":6.5,"v":-4.5},{"s":"y","h":7,"v":-3},{"s":"y","h":7.5,"v":-4},{"s":"y","h":8,"v":-5.5},{"s":"y","h":8.5,"v":-6},{"s":"y","h":9,"v":-5},{"s":"y","h":9.5,"v":-6.5},{"s":"y","h":10,"v":-5.5},{"s":"y","h":10.5,"v":-6.5},{"s":"y","h":11,"v":-5},{"s":"y","h":11.5,"v":-1},{"s":"y","h":12,"v":-2},{"s":"y","h":12.5,"v":-1.5},{"s":"y","h":13,"v":-3},{"s":"y","h":13.5,"v":-2},{"s":"y","h":14,"v":-3.5},{"s":"y","h":14.5,"v":-3},{"s":"y","h":15,"v":-4.5},{"s":"y","h":15.5,"v":-4},{"s":"y","h":16,"v":-5.5},{"s":"y","h":16.5,"v":-5},{"s":"y","h":17,"v":-6.5},{"s":"y","h":17.5,"v":-6},{"s":"y","h":18,"v":-5},{"s":"y","h":18.5,"v":-6.5},{"s":"y","h":19,"v":-6},{"s":"y","h":19.5,"v":-7},{"s":"y","h":20,"v":-6.5},{"s":"y","h":20.5,"v":-5.5},{"s":"y","h":21,"v":-6},{"s":"y","h":21.5,"v":-3},{"s":"y","h":22,"v":-1},{"s":"y","h":22.5,"v":0.5},{"s":"y","h":22.8,"v":11},{"s":"y","h":23.2,"v":10},{"s":"y","h":23.5,"v":9},{"s":"y","h":23.8,"v":8.2},
{"s":"z","h":0,"v":0},{"s":"z","h":0.5,"v":2},{"s":"z","h":1,"v":1.5},{"s":"z","h":1.5,"v":3},{"s":"z","h":2,"v":2},{"s":"z","h":2.5,"v":4},{"s":"z","h":3,"v":3},{"s":"z","h":3.5,"v":2.5},{"s":"z","h":4,"v":4},{"s":"z","h":4.5,"v":3.5},{"s":"z","h":5,"v":5.5},{"s":"z","h":5.5,"v":7},{"s":"z","h":6,"v":6.5},{"s":"z","h":6.5,"v":5.5},{"s":"z","h":7,"v":6},{"s":"z","h":7.5,"v":5},{"s":"z","h":8,"v":4.5},{"s":"z","h":8.5,"v":3.5},{"s":"z","h":9,"v":4},{"s":"z","h":9.5,"v":3},{"s":"z","h":10,"v":5},{"s":"z","h":10.5,"v":6.5},{"s":"z","h":11,"v":7},{"s":"z","h":11.5,"v":7.5},{"s":"z","h":12,"v":5.5},{"s":"z","h":12.5,"v":5},{"s":"z","h":13,"v":4},{"s":"z","h":13.5,"v":3.5},{"s":"z","h":14,"v":4.5},{"s":"z","h":14.5,"v":3},{"s":"z","h":15,"v":2},{"s":"z","h":15.5,"v":2.5},{"s":"z","h":16,"v":1},{"s":"z","h":16.5,"v":0.5},{"s":"z","h":17,"v":-0.5},{"s":"z","h":17.5,"v":0},{"s":"z","h":18,"v":-1.5},{"s":"z","h":18.5,"v":-1},{"s":"z","h":19,"v":1.5},{"s":"z","h":19.5,"v":5},{"s":"z","h":20,"v":6.5},{"s":"z","h":20.5,"v":7},{"s":"z","h":21,"v":6},{"s":"z","h":21.5,"v":5},{"s":"z","h":22,"v":4},{"s":"z","h":22.5,"v":3},{"s":"z","h":23,"v":2},{"s":"z","h":23.5,"v":1},{"s":"z","h":23.8,"v":1.5},
{"s":"bb","h":0,"v":0},{"s":"bb","h":0.5,"v":-1.5},{"s":"bb","h":1,"v":-0.5},{"s":"bb","h":1.5,"v":1.5},{"s":"bb","h":2,"v":1},{"s":"bb","h":2.5,"v":0},{"s":"bb","h":3,"v":-1},{"s":"bb","h":3.5,"v":0.5},{"s":"bb","h":4,"v":-1},{"s":"bb","h":4.5,"v":-2},{"s":"bb","h":5,"v":-1.5},{"s":"bb","h":5.5,"v":-3},{"s":"bb","h":6,"v":-2.5},{"s":"bb","h":6.5,"v":-4},{"s":"bb","h":7,"v":-3},{"s":"bb","h":7.5,"v":-4.5},{"s":"bb","h":8,"v":-5},{"s":"bb","h":8.5,"v":-4},{"s":"bb","h":9,"v":-6},{"s":"bb","h":9.5,"v":-7},{"s":"bb","h":10,"v":-6},{"s":"bb","h":10.5,"v":-7.5},{"s":"bb","h":11,"v":-8},{"s":"bb","h":11.5,"v":-7},{"s":"bb","h":12,"v":-8.5},{"s":"bb","h":12.5,"v":-9},{"s":"bb","h":13,"v":-8},{"s":"bb","h":13.5,"v":-9.5},{"s":"bb","h":14,"v":-10},{"s":"bb","h":14.5,"v":-9},{"s":"bb","h":15,"v":-9.5},{"s":"bb","h":15.5,"v":-11},{"s":"bb","h":16,"v":-10},{"s":"bb","h":16.5,"v":-11.5},{"s":"bb","h":17,"v":-12},{"s":"bb","h":17.5,"v":-11},{"s":"bb","h":18,"v":-12.5},{"s":"bb","h":18.5,"v":-13},{"s":"bb","h":19,"v":-12},{"s":"bb","h":19.5,"v":-13.5},{"s":"bb","h":20,"v":-14},{"s":"bb","h":20.3,"v":-3},{"s":"bb","h":20.7,"v":-4},{"s":"bb","h":21.2,"v":-5.5},{"s":"bb","h":21.7,"v":-6},{"s":"bb","h":22.2,"v":-5},{"s":"bb","h":22.7,"v":-6.5},{"s":"bb","h":23.2,"v":-7},{"s":"bb","h":23.8,"v":-6},
{"s":"cc","h":0,"v":0},{"s":"cc","h":0.5,"v":-2},{"s":"cc","h":1,"v":-1.5},{"s":"cc","h":1.5,"v":-3},{"s":"cc","h":2,"v":-2.5},{"s":"cc","h":2.5,"v":-4},{"s":"cc","h":3,"v":-3.5},{"s":"cc","h":3.5,"v":-5},{"s":"cc","h":4,"v":-4.5},{"s":"cc","h":4.5,"v":-6},{"s":"cc","h":5,"v":-5},{"s":"cc","h":5.5,"v":-6.5},{"s":"cc","h":6,"v":-7.5},{"s":"cc","h":6.5,"v":-7},{"s":"cc","h":7,"v":-8.5},{"s":"cc","h":7.5,"v":-9},{"s":"cc","h":8,"v":-8},{"s":"cc","h":8.5,"v":-9.5},{"s":"cc","h":9,"v":-10},{"s":"cc","h":9.5,"v":-9},{"s":"cc","h":10,"v":-10.5},{"s":"cc","h":10.5,"v":-11},{"s":"cc","h":11,"v":-10},{"s":"cc","h":11.5,"v":-11.5},{"s":"cc","h":12,"v":-12},{"s":"cc","h":12.5,"v":-12.5},{"s":"cc","h":13,"v":-11.5},{"s":"cc","h":13.5,"v":-12.5},{"s":"cc","h":14,"v":-12},{"s":"cc","h":14.5,"v":-13},{"s":"cc","h":15,"v":-13.5},{"s":"cc","h":15.5,"v":-14},{"s":"cc","h":16,"v":-13},{"s":"cc","h":16.5,"v":-14.5},{"s":"cc","h":17,"v":-15},{"s":"cc","h":17.5,"v":-16},{"s":"cc","h":18,"v":-17},{"s":"cc","h":18.5,"v":-17.5},{"s":"cc","h":19,"v":-18.5},{"s":"cc","h":19.5,"v":-19.5},{"s":"cc","h":20,"v":-20},{"s":"cc","h":20.5,"v":-19},{"s":"cc","h":21,"v":-18},{"s":"cc","h":21.5,"v":-20},{"s":"cc","h":21.8,"v":-7},{"s":"cc","h":22.2,"v":-6},{"s":"cc","h":22.7,"v":-5},{"s":"cc","h":23.2,"v":-6},{"s":"cc","h":23.8,"v":-5.4},
{"s":"dd","h":0,"v":0},{"s":"dd","h":0.5,"v":-1},{"s":"dd","h":1,"v":-2},{"s":"dd","h":1.5,"v":-1},{"s":"dd","h":2,"v":-2.5},{"s":"dd","h":2.5,"v":-1.5},{"s":"dd","h":3,"v":-3},{"s":"dd","h":3.5,"v":-2},{"s":"dd","h":4,"v":-3.5},{"s":"dd","h":4.5,"v":-4},{"s":"dd","h":5,"v":-3},{"s":"dd","h":5.5,"v":-4.5},{"s":"dd","h":6,"v":-5.5},{"s":"dd","h":6.5,"v":-5},{"s":"dd","h":7,"v":-6.5},{"s":"dd","h":7.5,"v":-7},{"s":"dd","h":8,"v":-6},{"s":"dd","h":8.5,"v":-7.5},{"s":"dd","h":9,"v":-8.5},{"s":"dd","h":9.5,"v":-8},{"s":"dd","h":10,"v":-9},{"s":"dd","h":10.5,"v":-10},{"s":"dd","h":11,"v":-9.5},{"s":"dd","h":11.5,"v":-10.5},{"s":"dd","h":12,"v":-11},{"s":"dd","h":12.5,"v":-10},{"s":"dd","h":13,"v":-11},{"s":"dd","h":13.5,"v":-9},{"s":"dd","h":14,"v":-10},{"s":"dd","h":14.5,"v":-11.5},{"s":"dd","h":15,"v":-12},{"s":"dd","h":15.5,"v":-13},{"s":"dd","h":16,"v":-14},{"s":"dd","h":16.5,"v":-14.5},{"s":"dd","h":17,"v":-14},{"s":"dd","h":17.5,"v":-15},{"s":"dd","h":18,"v":-16},{"s":"dd","h":18.5,"v":-17},{"s":"dd","h":19,"v":-16.5},{"s":"dd","h":19.5,"v":-17},{"s":"dd","h":20,"v":-18},{"s":"dd","h":20.5,"v":-17.5},{"s":"dd","h":21,"v":-18.5},{"s":"dd","h":21.5,"v":-18},{"s":"dd","h":22,"v":-16},{"s":"dd","h":22.5,"v":-16.5},{"s":"dd","h":23,"v":-15},{"s":"dd","h":23.4,"v":-16},{"s":"dd","h":23.8,"v":-15.5},
{"s":"ff","h":0,"v":0},{"s":"ff","h":0.3,"v":3},{"s":"ff","h":0.7,"v":2.5},{"s":"ff","h":1,"v":1.5},{"s":"ff","h":1.5,"v":1},{"s":"ff","h":2,"v":2},{"s":"ff","h":2.5,"v":2.5},{"s":"ff","h":2.8,"v":3.7},{"s":"ff","h":3.3,"v":3.9},{"s":"ff","h":3.7,"v":3.2},{"s":"ff","h":4.2,"v":2},{"s":"ff","h":4.7,"v":1.5},{"s":"ff","h":5,"v":0.5},{"s":"ff","h":5.5,"v":1},{"s":"ff","h":6,"v":0},{"s":"ff","h":6.5,"v":-1},{"s":"ff","h":7,"v":-0.5},{"s":"ff","h":7.5,"v":-2},{"s":"ff","h":8,"v":-1.5},{"s":"ff","h":8.5,"v":-3},{"s":"ff","h":9,"v":-2.5},{"s":"ff","h":9.5,"v":-4},{"s":"ff","h":10,"v":-3.5},{"s":"ff","h":10.5,"v":-5},{"s":"ff","h":11,"v":-4.5},{"s":"ff","h":11.5,"v":-6},{"s":"ff","h":12,"v":-5.5},{"s":"ff","h":12.5,"v":-6.5},{"s":"ff","h":13,"v":-7},{"s":"ff","h":13.5,"v":-6},{"s":"ff","h":14,"v":-7},{"s":"ff","h":14.5,"v":-6.5},{"s":"ff","h":15,"v":-8},{"s":"ff","h":15.5,"v":-9},{"s":"ff","h":16,"v":-8.5},{"s":"ff","h":16.5,"v":-10},{"s":"ff","h":17,"v":-9.5},{"s":"ff","h":17.5,"v":-11},{"s":"ff","h":18,"v":-12},{"s":"ff","h":18.5,"v":-12.5},{"s":"ff","h":19,"v":-13},{"s":"ff","h":19.5,"v":-12.5},{"s":"ff","h":20,"v":-13.5},{"s":"ff","h":20.5,"v":-13},{"s":"ff","h":21,"v":-14},{"s":"ff","h":21.5,"v":-15},{"s":"ff","h":22,"v":-15.5},{"s":"ff","h":22.5,"v":-14},{"s":"ff","h":23,"v":-12},{"s":"ff","h":23.4,"v":-10.5},{"s":"ff","h":23.8,"v":-9.8}
]},
"data": {"name": "d"},
"layer": [
 {"mark": {"type": "line", "strokeWidth": 1, "clip": true},
  "encoding": {
   "x": {"field": "h", "type": "quantitative", "scale": {"domain": [0, 23.8], "nice": false, "zero": false},
         "axis": {"values": [0,1,2,3,4,5,6,7,8,9,10,11,12,13,14,15,16,17,18,19,20,21,22,23], "tickSize": -5, "labelPadding": 11, "title": "Hour of Day", "titlePadding": 4, "labelFlush": false}},
   "y": {"field": "v", "type": "quantitative", "scale": {"domain": [-30, 30], "nice": false},
         "axis": {"values": [-30,-20,-10,0,10,20,30], "tickSize": -5, "labelPadding": 12, "title": "Cumulative (Z*Z)-1", "titlePadding": 8, "labelFlush": false}},
   "color": {"field": "s", "type": "nominal", "legend": null,
     "scale": {"domain": ["a","b","c","d","e","e2","f","g","i","k","l","m","n","o","p","q","r","s","t","u","v","w","x","y","z","bb","cc","dd","ff"],
               "range": ["#0000b0","#ff40ff","#ffff00","#6060ff","#b00000","#b00000","#ff0000","#0000b0","#00a000","#ff40ff","#0000ff","#ff40ff","#0000ff","#00a000","#00ffff","#ffff00","#ffff00","#ff0000","#ff0000","#0000ff","#00ffff","#00ffff","#00a000","#6060ff","#6060ff","#ff0000","#0000ff","#0000b0","#00a000"]}}
  }},
 {"mark": {"type": "point", "opacity": 0},
  "encoding": {
   "x": {"field": "h", "type": "quantitative", "axis": {"orient": "top", "values": [0,1,2,3,4,5,6,7,8,9,10,11,12,13,14,15,16,17,18,19,20,21,22,23], "tickSize": -5, "labels": false, "title": null}},
   "y": {"field": "v", "type": "quantitative", "axis": {"orient": "right", "values": [-30,-20,-10,0,10,20,30], "tickSize": -5, "labels": false, "title": null}}
  }}
],
"resolve": {"axis": {"x": "independent", "y": "independent"}}
}
